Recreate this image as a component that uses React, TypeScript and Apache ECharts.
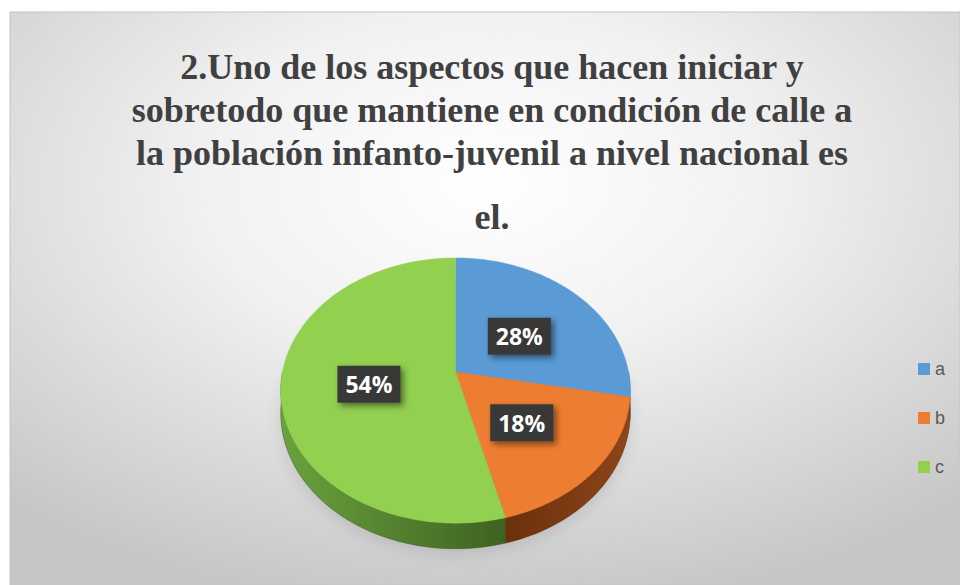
import React, { useEffect, useRef } from "react";
import * as echarts from "echarts";

// ---- data ----
const categories = ["a", "b", "c"];
const values = [28, 18, 54];
const colors = ["#5B9BD5", "#ED7D31", "#92D050"];
const wallColors = [
  ["#4a82b8", "#35608c"],
  ["#8e4519", "#6b300c"],
  ["#6aa23c", "#3e6222"],
];
const titleLines = [
  "2.Uno de los aspectos que hacen iniciar y",
  "sobretodo que mantiene en condición de calle a",
  "la población infanto-juvenil a nivel nacional es",
  "el.",
];

// ---- layout (3D pie projection) ----
const CX = 455.5;
const CY = 372;
const RX = 173;
const RY = 130;
const K = 0.14;
const DEPTH = 22;

function proj(theta: number, r = 1): [number, number, number] {
  const X = r * Math.sin(theta);
  const Zf = -r * Math.cos(theta);
  const w = 1 - K * Zf;
  return [CX + (RX * X) / w, CY + (RY * Zf) / w, w];
}

const total = values.reduce((s, v) => s + v, 0);

function makeRenderItem(idx: number) {
  return (params: any, api: any) => {
    const before = values.slice(0, idx).reduce((s, v) => s + v, 0);
    const start = (before / total) * Math.PI * 2;
    const end = start + (api.value(0) / total) * Math.PI * 2;
    const children: any[] = [];

    // top face
    const n = Math.max(2, Math.ceil(((end - start) * 180) / Math.PI));
    const topPts: number[][] = [[CX, CY]];
    for (let k = 0; k <= n; k++) {
      const p = proj(start + ((end - start) * k) / n);
      topPts.push([p[0], p[1]]);
    }

    // soft shadow under whole pie (drawn once)
    if (idx === 0) {
      const sh: number[][] = [];
      for (let k = 0; k <= 360; k += 2) {
        const p = proj((k * Math.PI) / 180);
        sh.push([p[0], p[1] + DEPTH / p[2]]);
      }
      children.push({
        type: "polygon",
        z2: 0,
        shape: { points: sh },
        style: {
          fill: "rgba(0,0,0,0.25)",
          shadowBlur: 16,
          shadowColor: "rgba(0,0,0,0.45)",
          shadowOffsetY: 5,
        },
      });
    }

    // side wall (front visible part)
    const ws = Math.max(start, Math.PI / 2);
    const we = Math.min(end, (Math.PI * 3) / 2);
    if (we > ws) {
      const m = Math.max(2, Math.ceil(((we - ws) * 180) / Math.PI));
      const up: number[][] = [];
      const low: number[][] = [];
      for (let k = 0; k <= m; k++) {
        const p = proj(ws + ((we - ws) * k) / m);
        up.push([p[0], p[1]]);
        low.push([p[0], p[1] + DEPTH / p[2]]);
      }
      const pts = up.concat(low.reverse());
      const leftSide = idx === 2;
      children.push({
        type: "polygon",
        z2: 2,
        shape: { points: pts },
        style: {
          fill: new echarts.graphic.LinearGradient(
            leftSide ? 0 : 1,
            0,
            leftSide ? 1 : 0,
            0,
            [
              { offset: 0, color: wallColors[idx][0] },
              { offset: 1, color: wallColors[idx][1] },
            ]
          ),
          stroke: wallColors[idx][1],
          lineWidth: 0.5,
        },
      });
    }

    children.push({
      type: "polygon",
      z2: 5,
      shape: { points: topPts },
      style: { fill: colors[idx], stroke: colors[idx], lineWidth: 0.5 },
    });

    // label
    const mid = (start + end) / 2;
    const lp = proj(mid, 0.5);
    const pct = Math.round((api.value(0) / total) * 100) + "%";
    children.push({
      type: "text",
      z2: 20,
      x: lp[0],
      y: lp[1] + 4,
      style: {
        text: pct,
        fill: "#ffffff",
        fontSize: 23,
        fontWeight: "bold",
        fontFamily: "Open Sans, Liberation Sans, sans-serif",
        align: "center",
        verticalAlign: "middle",
        backgroundColor: "#383838",
        padding: [7, 8, 7, 8],
        shadowBlur: 6,
        shadowColor: "rgba(0,0,0,0.5)",
        shadowOffsetX: 3,
        shadowOffsetY: 3,
      },
    });

    return { type: "group", children };
  };
}

export default function App() {
  const ref = useRef<HTMLDivElement>(null);
  useEffect(() => {
    if (!ref.current) return;
    const chart = echarts.init(ref.current, null, { renderer: "svg" });
    const baselines = [79, 122, 165, 229];
    const option: any = {
      animation: false,
      backgroundColor: "#ffffff",
      legend: {
        data: categories,
        orient: "vertical",
        left: 913,
        top: 355,
        icon: "rect",
        itemWidth: 12,
        itemHeight: 12,
        itemGap: 31,
        selectedMode: false,
        textStyle: {
          color: "#595959",
          fontSize: 18,
          lineHeight: 14,
          fontFamily: "Liberation Sans, sans-serif",
        },
      },
      graphic: [
        {
          type: "rect",
          z: -100,
          shape: { x: 10, y: 12, width: 950, height: 573 },
          style: {
            fill: new echarts.graphic.RadialGradient(0.5, 0.3, 0.75, [
              { offset: 0, color: "#ffffff" },
              { offset: 0.4, color: "#f1f1f1" },
              { offset: 1, color: "#c6c6c6" },
            ]),
            stroke: "#c4c4c4",
            lineWidth: 1,
          },
        },
        ...titleLines.map((t, i) => ({
          type: "text",
          z: 100,
          x: 492,
          y: baselines[i] - 12,
          style: {
            text: t,
            fill: "#404040",
            fontSize: 36,
            fontWeight: "bold",
            fontFamily: "Liberation Serif, Times New Roman, serif",
            align: "center",
            verticalAlign: "middle",
          },
        })),
      ],
      series: categories.map((name, i) => ({
        type: "custom",
        name,
        coordinateSystem: "none",
        itemStyle: { color: colors[i] },
        data: [[values[i]]],
        renderItem: makeRenderItem(i),
        silent: true,
      })),
    };
    chart.setOption(option);
    return () => chart.dispose();
  }, []);
  return (
    <div
      ref={ref}
      style={{ position: "absolute", left: 0, top: 0, width: 960, height: 585 }}
    />
  );
}
